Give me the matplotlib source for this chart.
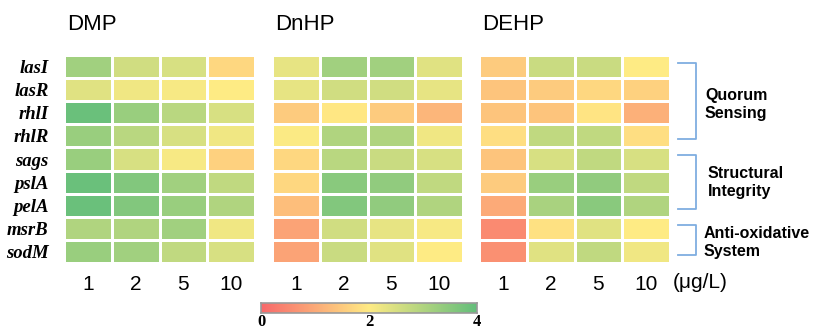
import numpy as np
import matplotlib.pyplot as plt
from matplotlib.colors import LinearSegmentedColormap

genes = ["lasI", "lasR", "rhlI", "rhlR", "sags", "pslA", "pelA", "msrB", "sodM"]
doses = ["1", "2", "5", "10"]

# relative expression per gene (rows) and dose (columns)
dmp = [
    [3.2, 2.6, 2.5, 1.7],
    [2.4, 2.2, 2.1, 2.0],
    [3.9, 3.3, 2.9, 2.5],
    [3.3, 2.9, 2.5, 2.2],
    [3.3, 2.5, 2.1, 1.6],
    [3.9, 3.6, 3.2, 2.8],
    [3.9, 3.6, 3.3, 3.0],
    [3.0, 3.0, 3.2, 2.2],
    [3.3, 3.2, 2.8, 2.5],
]
dnhp = [
    [2.3, 3.2, 3.2, 2.4],
    [2.3, 2.6, 2.6, 2.3],
    [1.5, 1.95, 1.5, 1.2],
    [2.05, 3.0, 3.0, 2.2],
    [1.7, 2.9, 2.7, 2.5],
    [1.7, 3.5, 3.4, 2.8],
    [1.3, 3.6, 3.4, 3.0],
    [0.9, 2.6, 2.3, 2.1],
    [0.9, 2.7, 2.4, 2.0],
]
dehp = [
    [1.5, 2.7, 2.7, 2.0],
    [1.4, 1.5, 1.7, 1.6],
    [1.4, 1.4, 1.9, 1.1],
    [1.8, 2.8, 2.8, 1.8],
    [1.4, 2.5, 2.8, 2.5],
    [1.5, 3.3, 3.4, 2.8],
    [1.0, 3.1, 3.5, 3.0],
    [0.5, 1.85, 2.4, 2.0],
    [0.6, 2.4, 2.8, 2.2],
]
panels = ["DMP", "DnHP", "DEHP"]

groups = ["Quorum\nSensing", "Structural\nIntegrity", "Anti-oxidative\nSystem"]
group_rows = [(0, 3), (4, 6), (7, 8)]

cmap = LinearSegmentedColormap.from_list("ryg", ["#F8696B", "#FFEB84", "#63BE7B"])

W, H = 816, 330
fig = plt.figure(figsize=(W / 100, H / 100), dpi=100)

def fx(px):
    return px / W

def fy(py):
    return 1 - py / H

lefts = [64, 272, 479]
width = 191
top, bottom = 55, 263

for name, data, left in zip(panels, [dmp, dnhp, dehp], lefts):
    ax = fig.add_axes([fx(left), fy(bottom), fx(width), (bottom - top) / H])
    arr = np.array(data)
    ax.pcolormesh(arr, cmap=cmap, vmin=0, vmax=4, edgecolors="white", linewidth=1.8)
    ax.set_xlim(0, 4)
    ax.set_ylim(9, 0)
    for s in ax.spines.values():
        s.set_visible(False)
    ax.set_xticks(np.arange(4) + 0.5)
    ax.set_xticklabels(doses, fontsize=15, family="Liberation Sans")
    ax.tick_params(length=0, pad=9)
    if left == lefts[0]:
        ax.set_yticks(np.arange(9) + 0.5)
        ax.set_yticklabels(genes, fontsize=13.5, family="Liberation Serif",
                           fontweight="bold", style="italic")
        ax.tick_params(axis="y", pad=11)
    else:
        ax.set_yticks([])
    fig.text(fx(left + 3), fy(25), name, fontsize=16, family="Liberation Sans",
             va="center", ha="left")

# unit label beside the last panel
fig.text(fx(673), fy(283), "(μg/L)", fontsize=15, family="Liberation Sans",
         va="center", ha="left")

# brackets for gene groups
row_h = (bottom - top) / 9
bx0, bx1 = 678, 696
label_x = [705, 708, 704]
label_dy = [3, 0, 3]
for label, (r0, r1), lx, dy in zip(groups, group_rows, label_x, label_dy):
    y0 = top + r0 * row_h + 8
    y1 = top + (r1 + 1) * row_h - 8
    fig.add_artist(plt.Line2D([fx(bx0), fx(bx1), fx(bx1), fx(bx0)],
                              [fy(y0), fy(y0), fy(y1), fy(y1)],
                              color="#7FAEE0", linewidth=1.3))
    fig.text(fx(lx), fy((y0 + y1) / 2 + dy), label, fontsize=11.5, fontweight="bold",
             family="Liberation Sans", va="center", ha="left", linespacing=1.25)

# colour bar
cax = fig.add_axes([fx(261), fy(313), fx(216), 10 / H])
grad = np.linspace(0, 4, 256).reshape(1, -1)
cax.imshow(grad, cmap=cmap, vmin=0, vmax=4, aspect="auto", extent=[0, 4, 0, 1])
cax.set_yticks([])
cax.set_xticks([0, 2, 4])
cax.set_xticklabels(["0", "2", "4"], fontsize=12, fontweight="bold",
                    family="Liberation Serif")
cax.tick_params(length=0, pad=1)
for s in cax.spines.values():
    s.set_edgecolor("#999999")
    s.set_linewidth(1.2)

fig.savefig("out.png", dpi=100)
